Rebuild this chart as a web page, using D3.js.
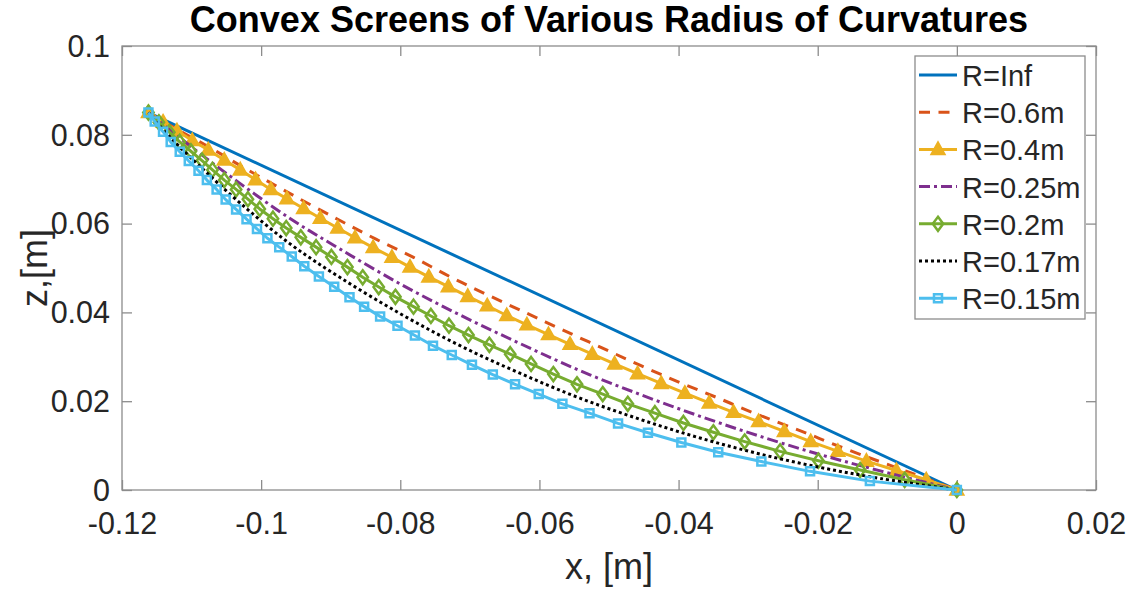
<!DOCTYPE html>
<html>
<head>
<meta charset="utf-8">
<script src="https://cdn.jsdelivr.net/npm/d3@7"></script>
<style>
  html, body { margin: 0; padding: 0; background: #fff; }
  svg text { font-family: "Liberation Sans", Arial, Helvetica, sans-serif; }
</style>
</head>
<body>
<svg id="chart" width="1137" height="592"></svg>
<script>
// ---- data -------------------------------------------------------------
const legendLabels = ["R=Inf", "R=0.6m", "R=0.4m", "R=0.25m", "R=0.2m", "R=0.17m", "R=0.15m"];
const xTicks = [-0.12, -0.1, -0.08, -0.06, -0.04, -0.02, 0, 0.02];
const zTicks = [0, 0.02, 0.04, 0.06, 0.08, 0.1];

// flat screen
const xRInf = [-0.1162, 0];
const zRInf = [0.0850, 0];

// R = 0.6 m
const xR06 = [-0.1162, -0.1124, -0.1071, -0.1026, -0.0959, -0.0888, -0.0835, -0.0781, -0.0728, -0.0674, -0.0618, -0.0566, -0.0510, -0.0454, -0.0398, -0.0343, -0.0288, -0.0221, -0.0180, -0.0130, -0.0086, -0.0053, 0];
const zR06 = [0.0850, 0.0815, 0.0769, 0.0727, 0.0668, 0.0608, 0.0565, 0.0524, 0.0480, 0.0439, 0.0398, 0.0360, 0.0320, 0.0280, 0.0242, 0.0207, 0.0171, 0.0131, 0.0105, 0.0075, 0.0050, 0.0031, 0];

// R = 0.4 m
const xR04 = [-0.1162, -0.1141, -0.1121, -0.1099, -0.1076, -0.1053, -0.1030, -0.1008, -0.0986, -0.0963, -0.0939, -0.0915, -0.0890, -0.0865, -0.0839, -0.0812, -0.0786, -0.0759, -0.0731, -0.0703, -0.0675, -0.0647, -0.0618, -0.0587, -0.0556, -0.0524, -0.0492, -0.0459, -0.0425, -0.0391, -0.0356, -0.0321, -0.0285, -0.0248, -0.0210, -0.0171, -0.0130, -0.0087, -0.0044, 0];
const zR04 = [0.0850, 0.0829, 0.0809, 0.0787, 0.0766, 0.0743, 0.0721, 0.0699, 0.0677, 0.0656, 0.0634, 0.0612, 0.0590, 0.0568, 0.0546, 0.0524, 0.0502, 0.0480, 0.0458, 0.0436, 0.0415, 0.0393, 0.0372, 0.0350, 0.0328, 0.0306, 0.0284, 0.0262, 0.0240, 0.0218, 0.0196, 0.0175, 0.0154, 0.0132, 0.0109, 0.0087, 0.0065, 0.0044, 0.0023, 0];

// R = 0.25 m
const xR025 = [-0.1162, -0.1131, -0.1088, -0.1030, -0.0959, -0.0887, -0.0800, -0.0714, -0.0628, -0.0542, -0.0455, -0.0369, -0.0283, -0.0197, -0.0110, 0];
const zR025 = [0.0850, 0.0811, 0.0758, 0.0690, 0.0612, 0.0543, 0.0464, 0.0394, 0.0330, 0.0269, 0.0215, 0.0166, 0.0121, 0.0080, 0.0043, 0];

// R = 0.2 m
const xR02 = [-0.1162, -0.1147, -0.1132, -0.1117, -0.1101, -0.1085, -0.1070, -0.1053, -0.1036, -0.1019, -0.1002, -0.0983, -0.0964, -0.0943, -0.0921, -0.0899, -0.0876, -0.0854, -0.0831, -0.0807, -0.0781, -0.0756, -0.0730, -0.0702, -0.0672, -0.0642, -0.0612, -0.0580, -0.0546, -0.0509, -0.0473, -0.0434, -0.0393, -0.0350, -0.0305, -0.0254, -0.0199, -0.0139, -0.0075, 0];
const zR02 = [0.0850, 0.0828, 0.0806, 0.0784, 0.0763, 0.0742, 0.0721, 0.0698, 0.0677, 0.0655, 0.0633, 0.0611, 0.0590, 0.0569, 0.0547, 0.0525, 0.0502, 0.0479, 0.0457, 0.0435, 0.0413, 0.0392, 0.0370, 0.0349, 0.0327, 0.0306, 0.0284, 0.0261, 0.0238, 0.0216, 0.0194, 0.0173, 0.0151, 0.0130, 0.0109, 0.0087, 0.0066, 0.0045, 0.0023, 0];

// R = 0.17 m
const xR017 = [-0.1162, -0.1131, -0.1088, -0.1030, -0.0959, -0.0887, -0.0800, -0.0714, -0.0628, -0.0542, -0.0455, -0.0369, -0.0283, -0.0197, -0.0110, 0];
const zR017 = [0.0850, 0.0795, 0.0729, 0.0646, 0.0555, 0.0479, 0.0397, 0.0325, 0.0263, 0.0207, 0.0159, 0.0117, 0.0081, 0.0051, 0.0026, 0];

// R = 0.15 m
const xR015 = [-0.1162, -0.1153, -0.1141, -0.1130, -0.1117, -0.1104, -0.1090, -0.1078, -0.1064, -0.1051, -0.1036, -0.1021, -0.1006, -0.0991, -0.0974, -0.0956, -0.0938, -0.0917, -0.0895, -0.0873, -0.0852, -0.0829, -0.0804, -0.0779, -0.0753, -0.0726, -0.0697, -0.0667, -0.0635, -0.0601, -0.0567, -0.0528, -0.0487, -0.0444, -0.0396, -0.0343, -0.0281, -0.0211, -0.0125, 0];
const zR015 = [0.0850, 0.0830, 0.0807, 0.0784, 0.0762, 0.0741, 0.0719, 0.0698, 0.0677, 0.0654, 0.0632, 0.0610, 0.0588, 0.0567, 0.0547, 0.0526, 0.0504, 0.0481, 0.0458, 0.0434, 0.0413, 0.0391, 0.0370, 0.0348, 0.0325, 0.0304, 0.0282, 0.0260, 0.0238, 0.0216, 0.0194, 0.0173, 0.0150, 0.0129, 0.0107, 0.0085, 0.0064, 0.0042, 0.0020, 0];

// ---- styles -----------------------------------------------------------
const zip = (xs, zs) => xs.map((x, i) => ({ x, z: zs[i] }));
const series = [
  { label: legendLabels[0], pts: zip(xRInf, zRInf),  color: "#0072BD", dash: null,       marker: null,       fill: "none",    smooth: false },
  { label: legendLabels[1], pts: zip(xR06, zR06),    color: "#D95319", dash: "11,8.5",   marker: null,       fill: "none",    smooth: true  },
  { label: legendLabels[2], pts: zip(xR04, zR04),    color: "#EDB120", dash: null,       marker: "triangle", fill: "#EDB120", smooth: false },
  { label: legendLabels[3], pts: zip(xR025, zR025),  color: "#7E2F8E", dash: "11,4,3,4", marker: null,       fill: "none",    smooth: true  },
  { label: legendLabels[4], pts: zip(xR02, zR02),    color: "#77AC30", dash: null,       marker: "diamond",  fill: "none",    smooth: false },
  { label: legendLabels[5], pts: zip(xR017, zR017),  color: "#000000", dash: "3,3",      marker: null,       fill: "none",    smooth: true  },
  { label: legendLabels[6], pts: zip(xR015, zR015),  color: "#4DBEEE", dash: null,       marker: "square",   fill: "none",    smooth: false }
];

const markerPath = {
  triangle: "M0,-6.5L6.2,4.5L-6.2,4.5Z",
  diamond:  "M0,-7L5.2,0L0,7L-5.2,0Z",
  square:   "M-4,-4H4V4H-4Z"
};

// ---- layout -----------------------------------------------------------
const L = 122, R = 1096, T = 46, B = 490;
const svg = d3.select("#chart");
const x = d3.scaleLinear().domain([-0.12, 0.02]).range([L, R]);
const y = d3.scaleLinear().domain([0, 0.1]).range([B, T]);

const axisColor = "#8c8c8c";
const textColor = "#262626";
const plain = d => String(d);

// box
svg.append("rect")
  .attr("x", L).attr("y", T).attr("width", R - L).attr("height", B - T)
  .attr("fill", "#fff").attr("stroke", axisColor).attr("stroke-width", 1.3);

function styleAxis(g) {
  g.select(".domain").remove();
  g.selectAll(".tick line").attr("stroke", axisColor).attr("stroke-width", 1.3);
  g.selectAll(".tick text")
    .attr("fill", textColor)
    .style("font-size", "30.5px");
}

svg.append("g").attr("transform", `translate(0,${B})`)
  .call(d3.axisBottom(x).tickValues(xTicks).tickSizeInner(-10).tickSizeOuter(0).tickPadding(22.5).tickFormat(plain))
  .call(styleAxis);
svg.append("g").attr("transform", `translate(0,${T})`)
  .call(d3.axisTop(x).tickValues(xTicks).tickSizeInner(-10).tickSizeOuter(0).tickFormat(""))
  .call(styleAxis);
svg.append("g").attr("transform", `translate(${L},0)`)
  .call(d3.axisLeft(y).tickValues(zTicks).tickSizeInner(-10).tickSizeOuter(0).tickPadding(12).tickFormat(plain))
  .call(styleAxis)
  .selectAll(".tick text").attr("dy", "0.34em");
svg.append("g").attr("transform", `translate(${R},0)`)
  .call(d3.axisRight(y).tickValues(zTicks).tickSizeInner(-10).tickSizeOuter(0).tickFormat(""))
  .call(styleAxis);

// ---- curves -----------------------------------------------------------
const plot = svg.append("g");
series.forEach(s => {
  const line = d3.line().x(d => x(d.x)).y(d => y(d.z))
    .curve(s.smooth ? d3.curveCatmullRom.alpha(0.5) : d3.curveLinear);
  plot.append("path")
    .datum(s.pts)
    .attr("d", line)
    .attr("fill", "none")
    .attr("stroke", s.color)
    .attr("stroke-width", 3)
    .attr("stroke-linejoin", "round")
    .attr("stroke-dasharray", s.dash);
  if (s.marker) {
    plot.append("g").selectAll("path")
      .data(s.pts)
      .join("path")
      .attr("transform", d => `translate(${x(d.x)},${y(d.z)})`)
      .attr("d", markerPath[s.marker])
      .attr("fill", s.fill)
      .attr("stroke", s.color)
      .attr("stroke-width", 2.5)
      .attr("stroke-linejoin", "miter");
  }
});

// ---- titles -----------------------------------------------------------
svg.append("text")
  .attr("x", (L + R) / 2).attr("y", 32)
  .attr("text-anchor", "middle")
  .attr("font-weight", "bold")
  .style("font-size", "36px")
  .attr("fill", "#000")
  .text("Convex Screens of Various Radius of Curvatures");

svg.append("text")
  .attr("x", (L + R) / 2).attr("y", 579)
  .attr("text-anchor", "middle")
  .style("font-size", "36px")
  .attr("fill", textColor)
  .text("x, [m]");

svg.append("text")
  .attr("transform", `translate(47,${(T + B) / 2}) rotate(-90)`)
  .attr("text-anchor", "middle")
  .style("font-size", "36px")
  .attr("fill", textColor)
  .text("z,[m]");

// ---- legend -----------------------------------------------------------
const lg = svg.append("g");
const lgX = 915, lgY = 56, lgW = 170, lgH = 263, rowH = 37.2, firstRow = 75;
lg.append("rect")
  .attr("x", lgX).attr("y", lgY).attr("width", lgW).attr("height", lgH)
  .attr("fill", "#fff").attr("stroke", axisColor).attr("stroke-width", 1.3);

series.forEach((s, i) => {
  const cy = firstRow + i * rowH;
  const row = lg.append("g").attr("transform", `translate(0,${cy})`);
  row.append("line")
    .attr("x1", 919).attr("x2", 957).attr("y1", 0).attr("y2", 0)
    .attr("stroke", s.color).attr("stroke-width", 3)
    .attr("stroke-dasharray", s.dash);
  if (s.marker) {
    row.append("path")
      .attr("transform", "translate(938,0)")
      .attr("d", markerPath[s.marker])
      .attr("fill", s.fill).attr("stroke", s.color).attr("stroke-width", 2.5);
  }
  row.append("text")
    .attr("x", 962).attr("y", 11)
    .style("font-size", "29px")
    .attr("fill", textColor)
    .text(s.label);
});
</script>
</body>
</html>
